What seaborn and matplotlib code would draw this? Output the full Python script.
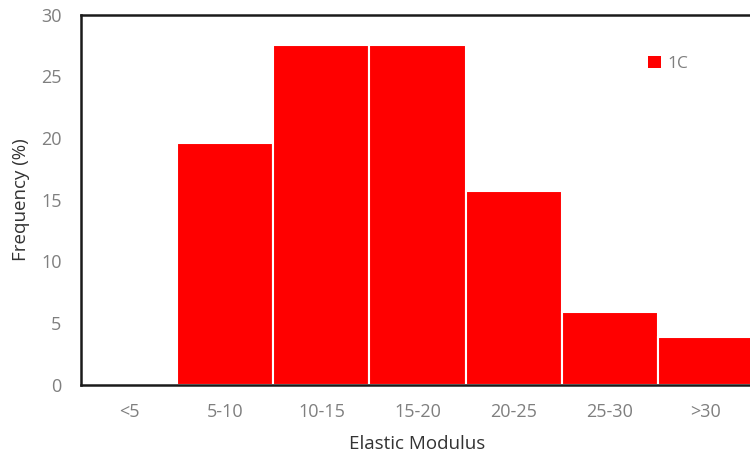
import matplotlib
matplotlib.use("Agg")
import matplotlib.pyplot as plt
import seaborn as sns
import pandas as pd
from matplotlib.patches import Patch

categories = ["<5", "5-10", "10-15", "15-20", "20-25", "25-30", ">30"]
frequency = [0.0, 19.6, 27.5, 27.5, 15.7, 5.9, 3.9]
series_name = "1C"

df = pd.DataFrame({"Elastic Modulus": categories, "Frequency (%)": frequency})

sns.set_theme(style="white")
plt.rcParams["font.family"] = ["Open Sans", "DejaVu Sans"]

fig = plt.figure(figsize=(7.5, 4.59), dpi=100)
ax = fig.add_axes([81 / 750, 74 / 459, 673 / 750, 370.5 / 459])

sns.barplot(data=df, x="Elastic Modulus", y="Frequency (%)", order=categories,
            color="#FF0000", saturation=1, width=1.0, edgecolor="white",
            linewidth=1.5, ax=ax)

ax.set_xlim(-0.5, len(categories) - 0.5)
ax.set_ylim(0, 30)
ax.set_yticks(range(0, 31, 5))

for side in ["left", "bottom", "top"]:
    ax.spines[side].set_visible(True)
    ax.spines[side].set_color("#1a1a1a")
    ax.spines[side].set_linewidth(1.8)
ax.spines["right"].set_visible(False)

ax.tick_params(axis="both", length=0, labelsize=13, labelcolor="#7f7f7f")
ax.tick_params(axis="y", pad=14)
ax.tick_params(axis="x", pad=13)

ax.set_xlabel("Elastic Modulus", fontsize=13.5, color="#333333", labelpad=10)
ax.set_ylabel("Frequency (%)", fontsize=13.5, color="#333333", labelpad=8)

handle = Patch(facecolor="#FF0000", edgecolor="none", label=series_name)
ax.legend(handles=[handle], loc="upper left", bbox_to_anchor=(0.82, 0.93),
          frameon=False, fontsize=12.5, labelcolor="#7f7f7f",
          handlelength=0.7, handleheight=0.7, handletextpad=0.4)

fig.savefig("out.png", dpi=100)
